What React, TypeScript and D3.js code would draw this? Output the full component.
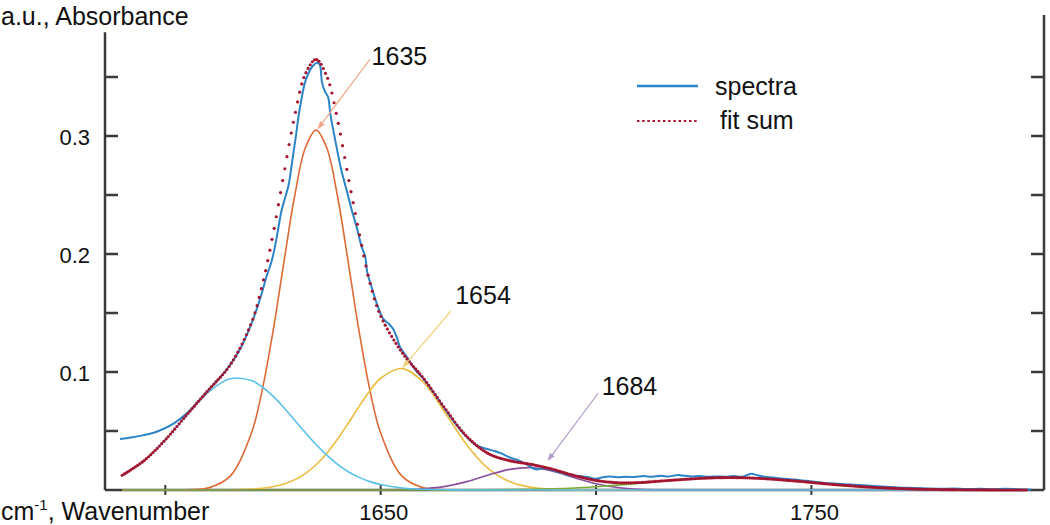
import React, { useEffect, useRef } from 'react';
import * as d3 from 'd3';

const width = 1050;
const height = 525;

// wavenumber grid of the fitted curves (cm-1)
const fitWn = [1590, 1595, 1600, 1605, 1610, 1615, 1620,
  1622.5, 1625, 1627.5, 1630, 1632.5, 1635, 1637.5, 1640, 1642.5, 1645, 1647.5,
  1650, 1655, 1660, 1665, 1670, 1675, 1680, 1685, 1690, 1695, 1700, 1705, 1710, 1715,
  1720, 1725, 1730, 1735, 1740, 1745, 1750, 1755, 1760, 1765, 1770, 1775, 1780, 1785,
  1790, 1795, 1800];

// fitted components
const band1617 = [0.0125, 0.0247, 0.0425, 0.0636, 0.0829, 0.0942, 0.0928,
  0.0873, 0.0795, 0.0699, 0.0593, 0.0487, 0.0385, 0.0295, 0.0218, 0.0155, 0.0107, 0.0071,
  0.0046, 0.0017, 0.0006, 0.0002, 0, 0, 0, 0, 0, 0, 0, 0, 0, 0,
  0, 0, 0, 0, 0, 0, 0, 0, 0, 0, 0, 0, 0, 0, 0, 0, 0];
const band1635 = [0, 0, 0, 0.0002, 0.0018, 0.0115, 0.0483,
  0.0847, 0.1343, 0.1923, 0.2485, 0.2898, 0.305, 0.2898, 0.2485, 0.1923, 0.1343, 0.0847,
  0.0483, 0.0115, 0.0018, 0.0002, 0, 0, 0, 0, 0, 0, 0, 0, 0, 0,
  0, 0, 0, 0, 0, 0, 0, 0, 0, 0, 0, 0, 0, 0, 0, 0, 0];
const band1654 = [0, 0, 0, 0, 0, 0.0002, 0.0008,
  0.0015, 0.0028, 0.0051, 0.0086, 0.0139, 0.0214, 0.0312, 0.0432, 0.0568, 0.0709, 0.0841,
  0.0947, 0.1029, 0.0909, 0.0653, 0.0382, 0.0181, 0.0070, 0.0022, 0.0006, 0.0001, 0, 0, 0, 0,
  0, 0, 0, 0, 0, 0, 0, 0, 0, 0, 0, 0, 0, 0, 0, 0, 0];
const band1684 = [0, 0, 0, 0, 0, 0, 0,
  0, 0, 0, 0, 0, 0, 0, 0, 0, 0, 0,
  0, 0.0003, 0.0011, 0.0031, 0.0071, 0.0127, 0.0175, 0.0189, 0.0159, 0.0104, 0.0053, 0.0021, 0.0006, 0.0002,
  0, 0, 0, 0, 0, 0, 0, 0, 0, 0, 0, 0, 0, 0, 0, 0, 0];
const band1730 = [0, 0, 0, 0, 0, 0, 0,
  0, 0, 0, 0, 0, 0, 0, 0, 0, 0, 0,
  0, 0, 0, 0, 0.0001, 0.0001, 0.0003, 0.0006, 0.0010, 0.0017, 0.0028, 0.0041, 0.0057, 0.0074,
  0.0089, 0.0100, 0.0105, 0.0103, 0.0094, 0.0080, 0.0064, 0.0047, 0.0033, 0.0021, 0.0013, 0.0007, 0.0004, 0.0002,
  0.0001, 0, 0];
const fitSum = [0.0125, 0.0247, 0.0425, 0.0638, 0.0847, 0.1057, 0.1417,
  0.1735, 0.2166, 0.2673, 0.3164, 0.3524, 0.3649, 0.3505, 0.3135, 0.2646, 0.2180, 0.1759,
  0.1476, 0.1164, 0.0944, 0.0688, 0.0454, 0.0309, 0.0248, 0.0217, 0.0175, 0.0122, 0.0081, 0.0062, 0.0063, 0.0076,
  0.0089, 0.0100, 0.0105, 0.0103, 0.0094, 0.0080, 0.0064, 0.0047, 0.0033, 0.0021, 0.0013, 0.0007, 0.0004, 0.0002,
  0.0001, 0, 0];

// measured spectrum
const specWn = [1589.5, 1592, 1595, 1598, 1602, 1605, 1608, 1611, 1614, 1617,
  1620, 1622.4, 1623.5, 1624.7, 1625.9, 1627, 1628.6, 1629.2, 1629.8, 1630.4,
  1630.9, 1631.7, 1632.4, 1633.2, 1634.4, 1635.4, 1635.9, 1636.4, 1637.1, 1637.8,
  1638.3, 1639, 1639.9, 1640.8, 1642.1, 1643.3, 1644.4, 1645.6, 1646.4, 1646.9,
  1647.9, 1649.1, 1650.6, 1652, 1652.9, 1653.7, 1654.5, 1656, 1658, 1660,
  1663, 1666, 1668.5, 1670.5, 1672, 1673.5, 1675, 1676.5, 1678, 1680,
  1682, 1684, 1686, 1688, 1690, 1692, 1694, 1696, 1698, 1700,
  1701.5, 1703, 1705, 1707, 1709, 1711, 1713, 1715, 1717, 1719,
  1720, 1722, 1724, 1726, 1728, 1730, 1732, 1734, 1736, 1737.5,
  1739, 1741, 1743, 1745, 1747, 1749, 1751, 1753, 1755, 1757,
  1759, 1762, 1765, 1768, 1771, 1774, 1777, 1780, 1783, 1786,
  1789, 1792, 1795, 1798, 1801];
const specAbs = [0.0432, 0.0445, 0.0465, 0.0494, 0.0565, 0.0650, 0.0765, 0.0885, 0.1010, 0.1170,
  0.1410, 0.1667, 0.1810, 0.1940, 0.2147, 0.2370, 0.2580, 0.2720, 0.2870, 0.3020,
  0.3160, 0.3330, 0.3450, 0.3530, 0.3600, 0.3620, 0.3600, 0.3450, 0.3375, 0.3330,
  0.3190, 0.3050, 0.2880, 0.2720, 0.2540, 0.2370, 0.2230, 0.2060, 0.1980, 0.1840,
  0.1720, 0.1580, 0.1450, 0.1405, 0.1365, 0.1300, 0.1210, 0.1130, 0.1020, 0.0940,
  0.0790, 0.0630, 0.0510, 0.0430, 0.0385, 0.0360, 0.0345, 0.0330, 0.0310, 0.0275,
  0.0250, 0.0215, 0.0175, 0.0185, 0.0165, 0.0145, 0.0125, 0.0118, 0.0110, 0.0095,
  0.0108, 0.0115, 0.0108, 0.0112, 0.0110, 0.0118, 0.0112, 0.0120, 0.0115, 0.0128,
  0.0122, 0.0115, 0.0118, 0.0112, 0.0115, 0.0113, 0.0118, 0.0112, 0.0138, 0.0125,
  0.0112, 0.0105, 0.0098, 0.0092, 0.0084, 0.0078, 0.0068, 0.0060, 0.0055, 0.0050,
  0.0046, 0.0040, 0.0032, 0.0026, 0.0020, 0.0016, 0.0012, 0.0010, 0.0012, 0.0008,
  0.0011, 0.0007, 0.0010, 0.0006, 0.0004];

// axes
const xTicks = [1600, 1650, 1700, 1750];
const xTickLabels = [1650, 1700, 1750];
const yTicks = [0.05, 0.1, 0.15, 0.2, 0.25, 0.3, 0.35];
const yTickLabels = [0.1, 0.2, 0.3];

// peak annotations
const peakLabels = ['1635', '1654', '1684'];
const labelWn = [1647.9, 1667.3, 1701.3];
const labelAbs = [0.360, 0.1576, 0.0805];
const arrowFromWn = [1647.5, 1666.3, 1700.5];
const arrowFromAbs = [0.365, 0.1517, 0.082];
const arrowToWn = [1635.5, 1655.2, 1688.9];
const arrowToAbs = [0.3065, 0.1042, 0.0254];
const arrowColors = ['#eda889', '#f0d27a', '#b29bcb'];

const components = [
  { values: band1635, color: '#dc6a36' },
  { values: band1654, color: '#ebbd3f' },
  { values: band1684, color: '#8a4f9c' },
  { values: band1730, color: '#7aae38' },
  { values: band1617, color: '#58c2ea' },
];

const FONT = "Arial, 'Liberation Sans', sans-serif";
const SPEC_COLOR = '#2b84c6';
const FIT_COLOR = '#a5142f';
const AXIS_COLOR = '#3a3a3a';
const DOT_DX = 2.1; // fit sum is drawn as one marker per data step

const App = () => {
  const fitRef = useRef<SVGPathElement>(null);
  const dotsRef = useRef<SVGGElement>(null);

  const x = d3.scaleLinear().domain([1586, 1804]).range([105, 1044]);
  const y = d3.scaleLinear().domain([0, 0.35]).range([490, 77]);

  const compLine = d3.line<number>()
    .x((_, i) => x(fitWn[i]))
    .y(d => y(d))
    .curve(d3.curveCatmullRom.alpha(0.5));

  const specLine = d3.line<number>()
    .x((_, i) => x(specWn[i]))
    .y(d => y(d))
    .curve(d3.curveCatmullRom.alpha(0.5));

  useEffect(() => {
    const node = fitRef.current;
    if (!node) return;
    const len = node.getTotalLength();
    const pts: [number, number][] = [];
    let next = -Infinity;
    for (let l = 0; l <= len; l += 0.25) {
      const p = node.getPointAtLength(l);
      if (p.x >= next) {
        pts.push([p.x, p.y]);
        next = p.x + DOT_DX;
      }
    }
    d3.select(dotsRef.current)
      .selectAll('circle')
      .data(pts)
      .join('circle')
      .attr('cx', d => d[0])
      .attr('cy', d => d[1])
      .attr('r', 1.6)
      .attr('fill', FIT_COLOR);
  }, []);

  return (
    <svg
      width={width}
      height={height}
      style={{ position: 'absolute', left: 0, top: 0, background: '#fff' }}
      fontFamily={FONT}
    >
      <defs>
        {arrowColors.map((c, i) => (
          <marker key={i} id={`head${i}`} markerUnits="userSpaceOnUse"
            markerWidth={8} markerHeight={6} refX={7} refY={3} orient="auto">
            <path d="M0,0 L8,3 L0,6 z" fill={c} />
          </marker>
        ))}
      </defs>

      {/* axes */}
      <line x1={x(1586)} x2={x(1586)} y1={y(0)} y2={y(0.388)} stroke={AXIS_COLOR} strokeWidth={2.5} />
      <line x1={x(1804)} x2={x(1804)} y1={y(0)} y2={y(0.4025)} stroke={AXIS_COLOR} strokeWidth={2.5} />
      <line x1={x(1586)} x2={x(1804)} y1={y(0)} y2={y(0)} stroke={AXIS_COLOR} strokeWidth={2.5} />
      {yTicks.map(t => (
        <g key={t}>
          <line x1={x(1586)} x2={x(1586) + 13} y1={y(t)} y2={y(t)} stroke={AXIS_COLOR} strokeWidth={2.5} />
          <line x1={x(1804) - 13} x2={x(1804)} y1={y(t)} y2={y(t)} stroke={AXIS_COLOR} strokeWidth={2.5} />
        </g>
      ))}
      {yTickLabels.map(t => (
        <text key={t} x={90} y={y(t) + 9} textAnchor="end" fontSize={22} fill="#111">{t.toFixed(1)}</text>
      ))}
      {xTicks.map(t => (
        <line key={t} x1={x(t)} x2={x(t)} y1={y(0) - 5} y2={y(0) + 5} stroke={AXIS_COLOR} strokeWidth={2} />
      ))}
      {xTickLabels.map(t => (
        <text key={t} x={x(t) + 3} y={520} textAnchor="middle" fontSize={22} fill="#111">{t}</text>
      ))}
      <text x={1} y={25} fontSize={25} fill="#111">a.u., Absorbance</text>
      <text x={1} y={520} fontSize={25} fill="#111">
        cm<tspan fontSize={15} dy={-10}>-1</tspan><tspan dy={10}>, Wavenumber</tspan>
      </text>

      {/* fitted components */}
      {components.map((c, i) => (
        <path key={i} d={compLine(c.values) || ''} fill="none" stroke={c.color} strokeWidth={1.6} />
      ))}

      {/* spectrum */}
      <path d={specLine(specAbs) || ''} fill="none" stroke={SPEC_COLOR} strokeWidth={2} />

      {/* fit sum */}
      <path ref={fitRef} d={compLine(fitSum) || ''} fill="none" stroke="none" />
      <g ref={dotsRef} />

      {/* peak annotations */}
      {peakLabels.map((p, i) => (
        <g key={p}>
          <line x1={x(arrowFromWn[i])} y1={y(arrowFromAbs[i])} x2={x(arrowToWn[i])} y2={y(arrowToAbs[i])}
            stroke={arrowColors[i]} strokeWidth={1.2} markerEnd={`url(#head${i})`} />
          <text x={x(labelWn[i])} y={y(labelAbs[i])} fontSize={25} fill="#111">{p}</text>
        </g>
      ))}

      {/* legend */}
      <line x1={637} x2={698} y1={86} y2={86} stroke={SPEC_COLOR} strokeWidth={2.5} />
      <text x={715} y={95} fontSize={25} fill="#111">spectra</text>
      <line x1={637} x2={699} y1={121} y2={121} stroke={FIT_COLOR} strokeWidth={2} strokeDasharray="2.4 2.8" />
      <text x={720} y={129} fontSize={25} fill="#111">fit sum</text>
    </svg>
  );
};

export default App;
